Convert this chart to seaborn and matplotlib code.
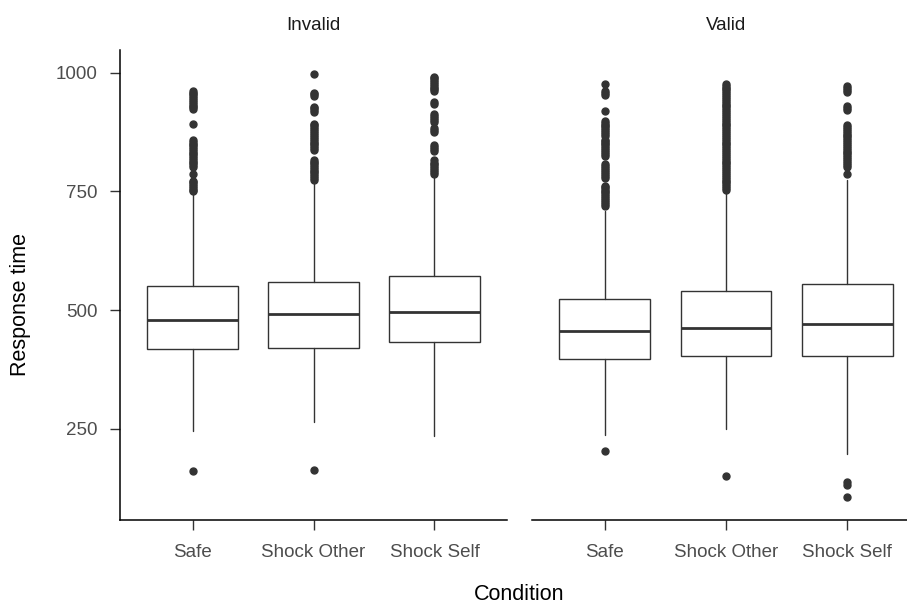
import numpy as np
import pandas as pd
import matplotlib
matplotlib.use("Agg")
from matplotlib import pyplot as plt
import seaborn as sns

# values (response time, ms)
cues = ['Invalid', 'Valid']
conditions = ['Safe', 'Shock Other', 'Shock Self']

q1_invalid = [418, 421, 433]
med_invalid = [479, 492, 496]
q3_invalid = [550, 560, 572]
lo_invalid = [246, 265, 234]
hi_invalid = [745, 766, 778]

q1_valid = [398, 403, 403]
med_valid = [456, 462, 471]
q3_valid = [524, 541, 555]
lo_valid = [237, 249, 197]
hi_valid = [709, 746, 774]

out_invalid_safe = [162,
                    750, 754, 757, 761, 765, 769, 773,
                    787,
                    802, 806, 809, 813, 817, 820, 824, 828, 832, 836, 840, 843, 847,
                    851, 855, 859,
                    893,
                    924, 927, 931, 935, 939, 943, 947, 951, 955, 958, 962]
out_invalid_other = [164,
                     775, 779, 783, 786, 790, 794, 798, 802, 806, 809, 813, 816,
                     837, 841, 845, 849, 853, 857, 861, 865, 869, 873, 877, 881, 885,
                     889, 892,
                     918, 922, 925, 928,
                     951, 955, 958,
                     998]
out_invalid_self = [787, 791, 795, 799, 803, 807, 811, 816,
                    836, 840, 844, 848,
                    876, 880, 884,
                    897, 901, 905, 909, 914,
                    935, 939,
                    961, 965, 969, 973, 977, 981, 985, 988, 992]
out_valid_safe = [204,
                  720, 724, 728, 732, 736, 740, 744, 748, 752, 756, 759, 762,
                  779, 783, 787, 791, 795, 799, 803, 808,
                  825, 829, 833, 837, 841, 845, 849, 853, 856, 859,
                  867, 871, 875, 879, 883, 887, 891, 895, 899,
                  920,
                  954, 958, 962,
                  977]
out_valid_other = [150,
                   753, 757, 761, 765, 769, 773, 777, 781, 785, 789, 793, 797, 801,
                   805, 809, 813, 817, 821, 825, 829, 833, 837, 841, 845, 849, 853,
                   857, 861, 865, 869, 873, 877, 881, 885, 889, 893, 897, 901, 905,
                   909, 913, 917, 921, 925, 929, 933, 937, 941, 945, 949, 953, 957,
                   961, 965, 969, 973, 977]
out_valid_self = [107, 132, 137,
                  786,
                  802, 806, 810, 814, 818, 822, 826, 830, 834, 838, 842, 846, 850,
                  854, 858, 862, 866, 870, 874, 878, 882, 886, 889,
                  922, 926, 930,
                  960, 964, 968, 972]

stats_table = pd.DataFrame({
    'cue': np.repeat(cues, 3),
    'condition': conditions * 2,
    'q1': q1_invalid + q1_valid,
    'med': med_invalid + med_valid,
    'q3': q3_invalid + q3_valid,
    'whislo': lo_invalid + lo_valid,
    'whishi': hi_invalid + hi_valid,
    'fliers': [out_invalid_safe, out_invalid_other, out_invalid_self,
               out_valid_safe, out_valid_other, out_valid_self],
})

sns.set_theme(style="ticks")
plt.rcParams['font.family'] = ['Liberation Sans', 'DejaVu Sans']

W, H = 907, 607
fig = plt.figure(figsize=(W / 100, H / 100), dpi=100)
bottom = (H - 520) / H
height = (520 - 50) / H
panels = {'Invalid': (120, 387), 'Valid': (532, 388)}

dark = '#333333'
for k, cue in enumerate(cues):
    x0, w = panels[cue]
    ax = fig.add_axes([x0 / W, bottom, w / W, height])
    sub = stats_table[stats_table['cue'] == cue]
    stats = [dict(label=r.condition, q1=r.q1, med=r.med, q3=r.q3,
                  whislo=r.whislo, whishi=r.whishi, fliers=np.array(r.fliers))
             for r in sub.itertuples()]
    ax.bxp(stats, positions=range(len(stats)), widths=0.75, patch_artist=True,
           showcaps=False,
           boxprops=dict(facecolor='white', edgecolor=dark, linewidth=1.0),
           medianprops=dict(color=dark, linewidth=2.0),
           whiskerprops=dict(color=dark, linewidth=1.0),
           flierprops=dict(marker='o', markerfacecolor=dark, markeredgecolor=dark,
                           markersize=5))
    ax.set_xlim(-0.6, 2.6)
    ax.set_ylim(58, 1048)
    ax.set_xticks(range(3))
    ax.set_xticklabels(conditions)
    ax.tick_params(axis='both', length=7, width=1.0, color=dark,
                   labelcolor='#4D4D4D', labelsize=13.5)
    ax.tick_params(axis='x', pad=10)
    ax.tick_params(axis='y', pad=9)
    for s in ['bottom', 'left']:
        ax.spines[s].set_color('black')
        ax.spines[s].set_linewidth(1.1)
    if k == 0:
        ax.set_yticks([250, 500, 750, 1000])
        sns.despine(ax=ax)
    else:
        ax.set_yticks([])
        sns.despine(ax=ax, left=True)
    ax.set_facecolor('white')
    fig.text((x0 + w / 2) / W, 1 - 25 / H, cue, ha='center', va='center',
             fontsize=13.5, color='#1A1A1A')

fig.text(519.5 / W, 1 - 595 / H, 'Condition', ha='center', va='center',
         fontsize=15.5, color='black')
fig.text(21 / W, 1 - 305 / H, 'Response time', ha='center', va='center',
         rotation=90, fontsize=15.5, color='black')

fig.savefig('out.png', dpi=100, facecolor='white')
